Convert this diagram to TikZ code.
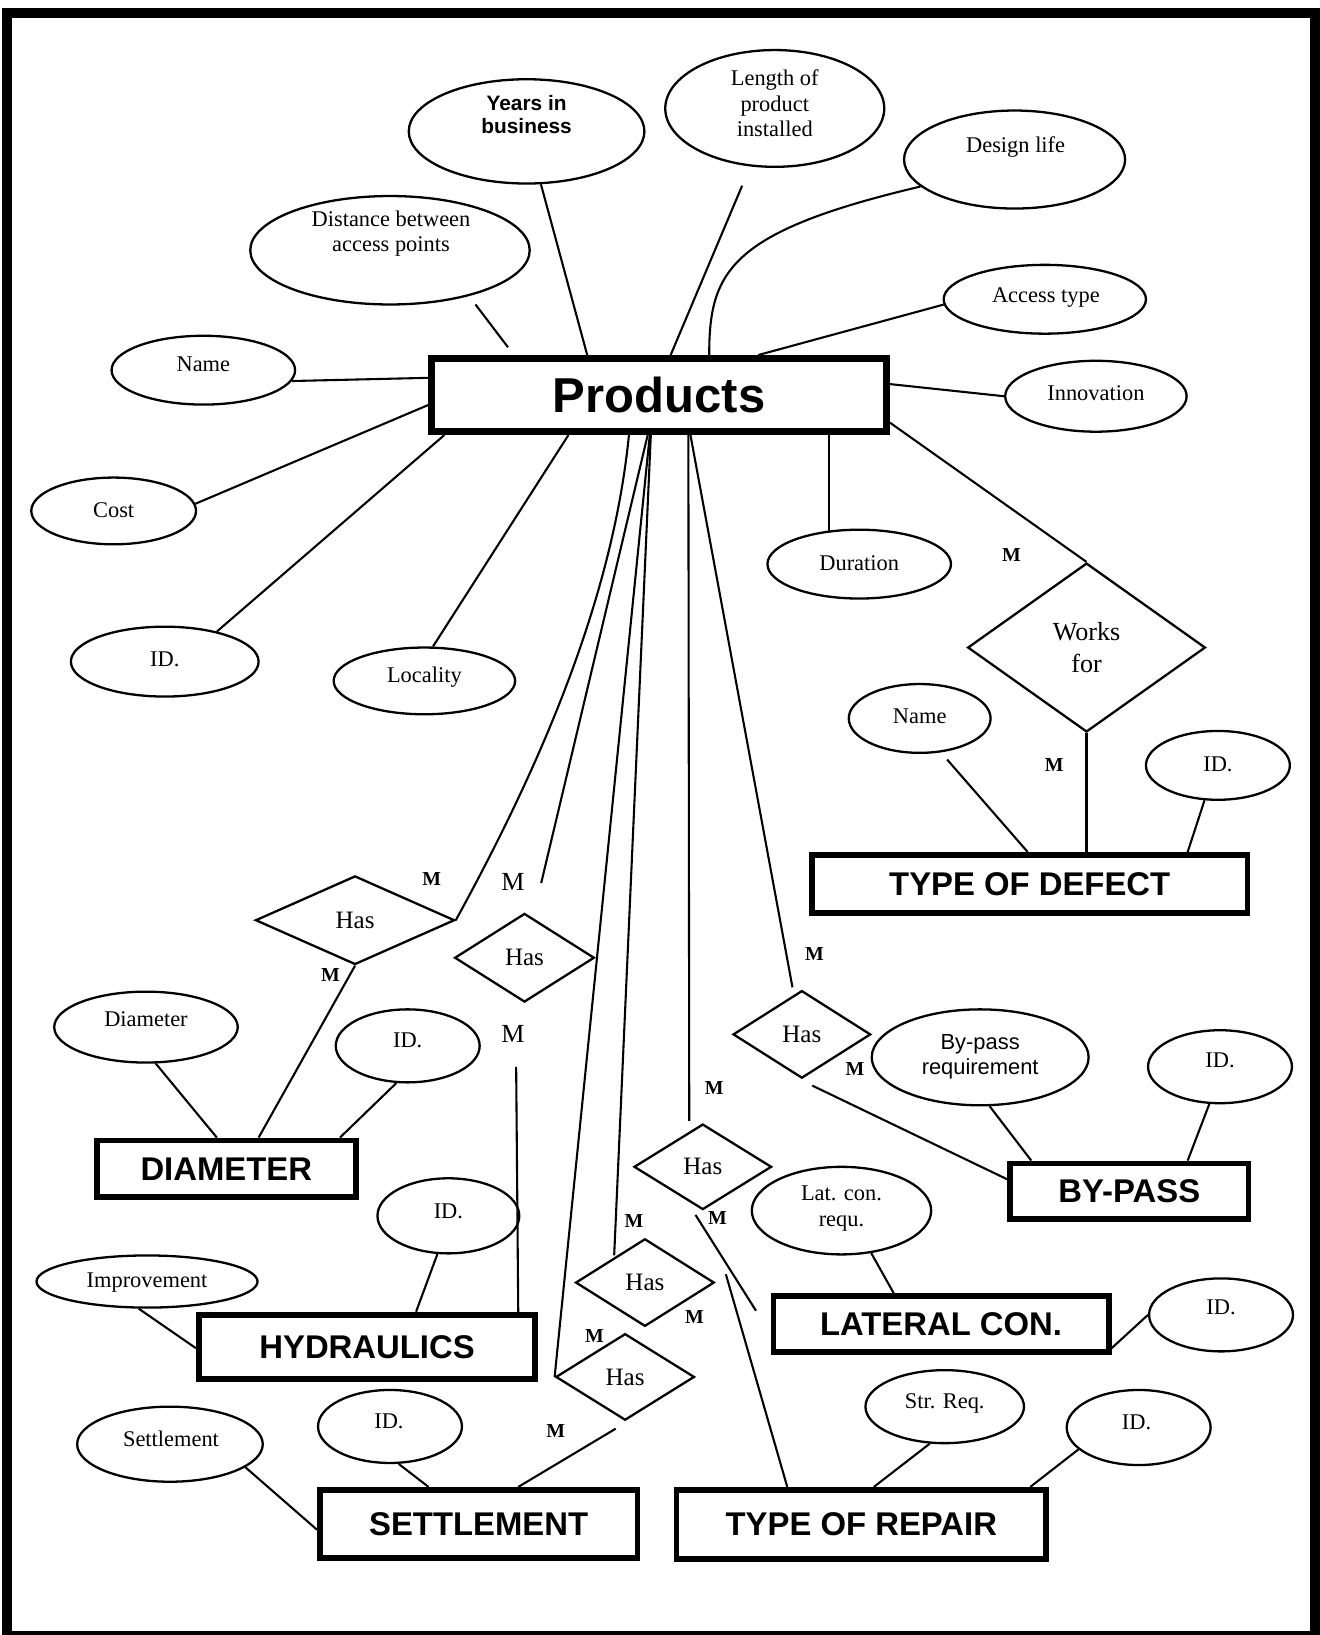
\documentclass[tikz,border=0pt]{standalone}
\usepackage{fontspec}
\setmainfont{Liberation Serif}
\newfontfamily\boxfont{Liberation Sans}
\usetikzlibrary{shapes.geometric,calc}

\begin{document}
\begin{tikzpicture}[x=1pt,y=-1pt,
  attr/.style={ellipse, draw, line width=2.2pt, inner sep=0pt},
  rel/.style={diamond, draw, line width=2.2pt, inner sep=0pt, font=\fontsize{24}{28}\selectfont},
  ent/.style={rectangle, draw, line width=5.5pt, inner sep=0pt, font=\boxfont\bfseries\fontsize{31.5}{36}\selectfont},
  lbl/.style={inner sep=0pt, align=center, font=\fontsize{21.5}{24}\selectfont},
  sanslbl/.style={inner sep=0pt, align=center, font=\boxfont\fontsize{21}{24}\selectfont},
  card/.style={inner sep=0pt, font=\bfseries\fontsize{19}{20}\selectfont},
  cardbig/.style={inner sep=0pt, font=\fontsize{25}{26}\selectfont},
  link/.style={line width=2pt},
]
\useasboundingbox (0,0) rectangle (1265,1568);
% page frame
\draw[line width=9.5pt] (6.4,12.5) rectangle (1261,1569);

% ---------- central entity ----------
\node[ent, line width=6.5pt, minimum width=436.2, minimum height=70.2,
      font=\boxfont\bfseries\fontsize{47}{50}\selectfont] (prod) at (632.15,378.85) {Products};

% ---------- attributes of Products ----------
\node[attr, minimum width=226, minimum height=100] (years) at (505,126) {};
\node[inner sep=0pt, align=center, font=\boxfont\bfseries\fontsize{20}{22.5}\selectfont] (years-t) at (505,110) {Years in\\business};
\node[attr, minimum width=210, minimum height=112] (length) at (743,104) {};
\node[lbl] (length-t) at (743,99) {Length of\\product\\installed};
\node[attr, minimum width=212, minimum height=94] (design) at (973,153) {};
\node[lbl] (design-t) at (974,141) {Design life};
\node[attr, minimum width=268, minimum height=104] (dist) at (374,240) {};
\node[lbl] (dist-t) at (375,224) {Distance between\\access points};
\node[attr, minimum width=194, minimum height=66] (access) at (1002,287) {};
\node[lbl] (access-t) at (1003,285) {Access type};
\node[attr, minimum width=176, minimum height=66] (name) at (195,355) {};
\node[lbl] (name-t) at (195,349) {Name};
\node[attr, minimum width=174, minimum height=68] (innov) at (1051,380) {};
\node[lbl] (innov-t) at (1051,377) {Innovation};
\node[attr, minimum width=158, minimum height=64] (cost) at (109,490) {};
\node[lbl] (cost-t) at (109,489) {Cost};
\node[attr, minimum width=180, minimum height=67] (idL) at (158,634.5) {};
\node[lbl] (idL-t) at (158,632) {ID.};
\node[attr, minimum width=174, minimum height=64] (local) at (407,653) {};
\node[lbl] (local-t) at (407,649) {Locality};
\node[attr, minimum width=176, minimum height=66] (durat) at (824,541) {};
\node[lbl] (durat-t) at (824,540) {Duration};

% ---------- Works for / TYPE OF DEFECT ----------
\node[rel, minimum width=228, minimum height=162, align=center,
      font=\fontsize{25}{30}\selectfont] (works) at (1042,621) {Works\\for};
\node[ent, minimum width=417.5, minimum height=55.5] (tod) at (987.5,847.5) {TYPE OF DEFECT};
\node[attr, minimum width=136, minimum height=66] (nameR) at (882,689) {};
\node[lbl] (nameR-t) at (882,687) {Name};
\node[attr, minimum width=138, minimum height=66] (idR) at (1168,734) {};
\node[lbl] (idR-t) at (1168,733) {ID.};

% ---------- relationships ----------
\node[rel, minimum width=191, minimum height=85] (has1) at (340.5,882.5) {Has};
\node[rel, minimum width=134, minimum height=85] (has2) at (503,918.5) {Has};
\node[rel, minimum width=132, minimum height=84] (has6) at (769,992) {Has};
\node[rel, minimum width=132, minimum height=82] (has5) at (674,1119) {Has};
\node[rel, minimum width=133, minimum height=84] (has3) at (618.5,1230) {Has};
\node[rel, minimum width=133, minimum height=83] (has4) at (599.5,1320.5) {Has};

% ---------- other entities ----------
\node[ent, minimum width=248.5, minimum height=54.5] (diam) at (217,1121) {DIAMETER};
\node[ent, minimum width=322.5, minimum height=61.5] (hyd) at (352,1291.5) {HYDRAULICS};
\node[ent, minimum width=304.5, minimum height=65.5] (setb) at (459,1461.5) {SETTLEMENT};
\node[ent, minimum width=354.5, minimum height=66.5] (rep) at (826,1462) {TYPE OF REPAIR};
\node[ent, minimum width=321.5, minimum height=53.5] (lat) at (902.5,1269.5) {LATERAL CON.};
\node[ent, minimum width=228.5, minimum height=53.5] (bp) at (1083,1142.5) {BY-PASS};

% ---------- their attributes ----------
\node[attr, minimum width=176, minimum height=68] (diamE) at (140,985) {};
\node[lbl] (diamE-t) at (140,977) {Diameter};
\node[attr, minimum width=138, minimum height=70] (idD) at (391,1003) {};
\node[lbl] (idD-t) at (391,998) {ID.};
\node[attr, minimum width=136, minimum height=72] (idH) at (430,1166) {};
\node[lbl] (idH-t) at (430,1162) {ID.};
\node[attr, minimum width=212, minimum height=50] (impr) at (141,1229) {};
\node[lbl] (impr-t) at (141,1230) {Improvement};
\node[attr, minimum width=138, minimum height=70] (idS) at (374,1368) {};
\node[lbl] (idS-t) at (373,1363) {ID.};
\node[attr, minimum width=178, minimum height=72] (settlE) at (163,1385) {};
\node[lbl] (settlE-t) at (164,1380) {Settlement};
\node[attr, minimum width=172, minimum height=84] (latreq) at (807,1161) {};
\node[lbl] (latreq-t) at (807,1159) {Lat. con.\\requ.};
\node[attr, minimum width=152, minimum height=70] (strreq) at (906,1349) {};
\node[lbl] (strreq-t) at (906,1346) {Str. Req.};
\node[attr, minimum width=138, minimum height=72] (idRep) at (1092,1369) {};
\node[lbl] (idRep-t) at (1090,1364) {ID.};
\node[attr, minimum width=138, minimum height=70] (idLat) at (1171,1261) {};
\node[lbl] (idLat-t) at (1171,1254) {ID.};
\node[attr, minimum width=208, minimum height=92] (bpreq) at (940,1014) {};
\node[sanslbl] (bpreq-t) at (940,1013) {By-pass\\requirement};
\node[attr, minimum width=138, minimum height=70] (idBP) at (1170,1023) {};
\node[lbl] (idBP-t) at (1170,1017) {ID.};

% ---------- connectors around Products ----------
\draw[link] (years) -- ([xshift=-69]prod.north);
\draw[link, shorten <=20] (length) -- ([xshift=11]prod.north);
\draw[link] (design.196) .. controls (700,222) and (680,260) .. ([xshift=48]prod.north);
\draw[link] ([xshift=82,yshift=-52]dist.center) -- ([xshift=-145,yshift=7.5]prod.north);
\draw[link] (access.183) -- ([xshift=95]prod.north);
\draw[link] (name.-7) -- ([yshift=16.5]prod.west);
\draw[link] (innov.west) -- ([yshift=10.5]prod.east);
\draw[link] (cost.5) -- ([yshift=-9.5]prod.west);
\draw[link] (idL.30) -- ([xshift=-206]prod.south);
\draw[link] (local.76) -- ([xshift=-87]prod.south);
\draw[link] (durat.132) -- (durat.132 |- prod.south);

% Works for
\draw[link] ([yshift=-26.5]prod.east) -- (works.north);
\draw[link] (works.south) -- (works.south |- tod.north);
\draw[link, shorten <=9] (nameR.-58) -- ([xshift=-2]tod.north);
\draw[link] (idR.-111) -- ([xshift=151.5]tod.north);

% Products to the Has relationships
\draw[link] ([xshift=-29]prod.south) .. controls (588,570) and (522,728) .. (has1.east);
\draw[link] ([xshift=-11]prod.south) -- ([xshift=16,yshift=28]has2.north);
\draw[link] ([xshift=-8]prod.south) -- ([xshift=-29.5,yshift=-17]has3.north);
\draw[link] ([xshift=-9]prod.south) -- (has4.west);
\draw[link] ([xshift=28]prod.south) -- ([xshift=-13,yshift=2]has5.north);
\draw[link] ([xshift=30]prod.south) -- ([xshift=-9,yshift=2]has6.north);

% Has relationships to their entities
\draw[link] (has1.south) -- ([xshift=31]diam.north);
\draw[link] ([xshift=-8,yshift=-61]has2.south) -- ([xshift=145]hyd.north);
\draw[link] ([xshift=10,yshift=8]has3.east) -- ([xshift=-71]rep.north);
\draw[link] ([xshift=-9,yshift=-7]has4.south) -- ([xshift=38]setb.north);
\draw[link] ([xshift=-7,yshift=-4]has5.south) -- ([xshift=-14,yshift=12.5]lat.west);
\draw[link] ([xshift=10,yshift=-6]has6.south) -- ([yshift=11.5]bp.west);

% attribute links of the lower entities
\draw[link] (diamE.-75) -- ([xshift=-9]diam.north);
\draw[link] (idD.-107) -- ([xshift=109]diam.north);
\draw[link] (idH.-106) -- ([xshift=47]hyd.north);
\draw[link] (impr.-107) -- ([yshift=-1.5]hyd.west);
\draw[link] (idS.-77) -- ([xshift=-48]setb.north);
\draw[link] (settlE.-17) -- ([yshift=-5.5]setb.west);
\draw[link] (latreq.-55) -- ([xshift=-45.5]lat.north);
\draw[link] (idLat.west) -- ([yshift=-23.5]lat.east);
\draw[link] (bpreq.-79) -- ([xshift=-94]bp.north);
\draw[link] (idBP.-106) -- ([xshift=56]bp.north);
\draw[link] (strreq.-112) -- ([xshift=12]rep.north);
\draw[link] (idRep.-160) -- ([xshift=162]rep.north);

% ---------- cardinalities ----------
\node[card] (m1) at (970,532) {M};
\node[card] (m2) at (1011,734) {M};
\node[card] (m3) at (414,843) {M};
\node[cardbig] (m4) at (492,846) {M};
\node[card] (m5) at (317,935) {M};
\node[cardbig] (m6) at (492,992) {M};
\node[card] (m7) at (781,915) {M};
\node[card] (m8) at (820,1025) {M};
\node[card] (m9) at (685,1043) {M};
\node[card] (m10) at (608,1171) {M};
\node[card] (m11) at (688,1168) {M};
\node[card] (m12) at (570,1281) {M};
\node[card] (m13) at (666,1263) {M};
\node[card] (m14) at (533,1372) {M};
\end{tikzpicture}
\end{document}
